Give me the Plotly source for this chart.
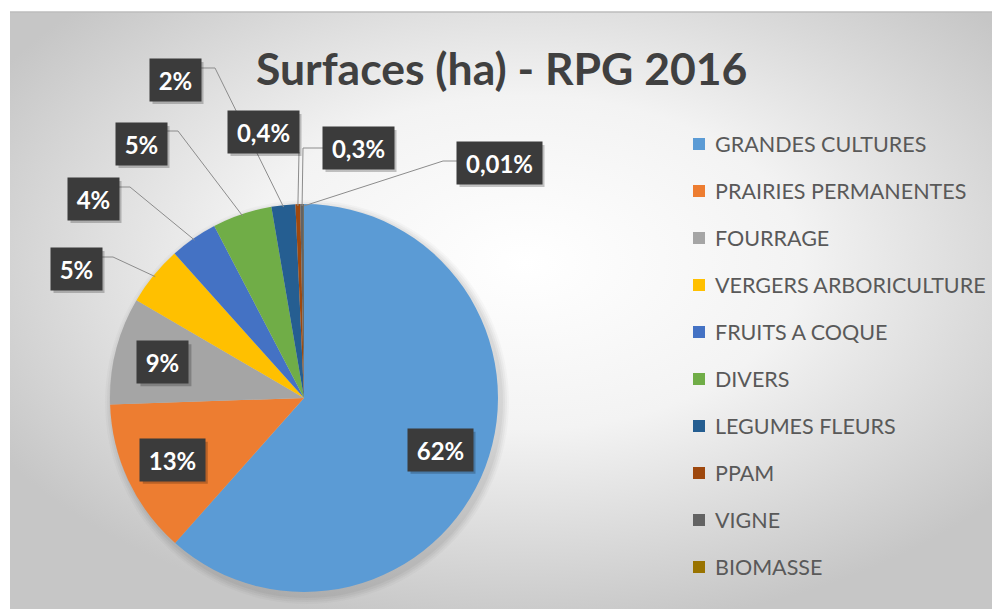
import math
import base64
import plotly.graph_objects as go

# ---------------- data ----------------
categories = ["GRANDES CULTURES", "PRAIRIES PERMANENTES", "FOURRAGE",
              "VERGERS ARBORICULTURE", "FRUITS A COQUE", "DIVERS",
              "LEGUMES FLEURS", "PPAM", "VIGNE", "BIOMASSE"]
values = [62, 13, 9, 5, 4, 5, 2, 0.4, 0.3, 0.01]
value_labels = ["62%", "13%", "9%", "5%", "4%", "5%", "2%", "0,4%", "0,3%", "0,01%"]
colors = ["#5B9BD5", "#ED7D31", "#A5A5A5", "#FFC000", "#4472C4",
          "#70AD47", "#255E91", "#9E480E", "#636363", "#997300"]
title_text = "Surfaces (ha) - RPG 2016"

# ---------------- layout constants (screen pixels) ----------------
OFF = 8                      # page body margin
W, H = 1000 - OFF, 609 - OFF
CX, CY, R = 304, 398, 194    # pie centre / radius (screen px)
FONT = "Lato"

def px(x):
    return (x - OFF) / W

def py(y):
    return 1 - (y - OFF) / H

# outside label boxes: centre, leader start, elbow (None -> inside label)
label_pos = [None, None, None, (76, 269), (93, 199), (141, 144), (175, 80),
             (263, 132), (358, 148), (499, 163)]
leader_start = [None, None, None, (102, 257), (119, 187), (166, 131), (200, 68),
                (299, 152), (323, 148), (457, 161)]
leader_elbow = [None, None, None, (113, 257), (130, 187), (178, 131), (215, 68),
                None, (303, 148), (443, 161)]
inside_frac = 0.75

total = sum(values)
mid_angles = []
acc = 0
for v in values:
    mid_angles.append((acc + v / 2) / total * 2 * math.pi)
    acc += v

def pie_point(theta, frac):
    return (CX + frac * R * math.sin(theta), CY - frac * R * math.cos(theta))

# ---------------- figure ----------------
fig = go.Figure()
fig.add_trace(go.Pie(
    labels=categories, values=values, sort=False, direction="clockwise",
    rotation=0, textinfo="none", hoverinfo="label+percent", showlegend=False,
    marker=dict(colors=colors, line=dict(width=0)),
    domain=dict(x=[px(CX - R), px(CX + R)], y=[py(CY + R), py(CY - R)]),
))

# background radial gradient
BG_W, BG_H = 1000 - 10, 609 - 12
svg = (
    f"<svg xmlns='http://www.w3.org/2000/svg' width='{BG_W}' height='{BG_H}'>"
    "<defs><radialGradient id='g' cx='0.52' cy='0.42' r='0.62'>"
    "<stop offset='0' stop-color='#ffffff'/>"
    "<stop offset='0.45' stop-color='#f3f3f3'/>"
    "<stop offset='1' stop-color='#c6c6c6'/>"
    "</radialGradient></defs>"
    f"<rect width='{BG_W}' height='{BG_H}' fill='url(#g)'/></svg>"
)
src = "data:image/svg+xml;base64," + base64.b64encode(svg.encode()).decode()
images = [dict(source=src, xref="paper", yref="paper", x=px(10), y=py(12),
               sizex=BG_W / W, sizey=BG_H / H, sizing="stretch",
               xanchor="left", yanchor="top", layer="below")]

shapes = []
# frame top line
shapes.append(dict(type="line", xref="paper", yref="paper", x0=px(10), x1=1,
                   y0=py(12), y1=py(12), line=dict(color="#bdbdbd", width=1.5),
                   layer="below"))
# soft pie shadow
for k, a in [(8, 0.025), (6, 0.03), (4, 0.035), (2, 0.04)]:
    shapes.append(dict(type="circle", xref="paper", yref="paper",
                       x0=px(CX - R - k + 3), x1=px(CX + R + k + 3),
                       y0=py(CY + R + k + 4), y1=py(CY - R - k + 4),
                       fillcolor=f"rgba(0,0,0,{a})", line=dict(width=0),
                       layer="below"))

# leader lines
for i in range(len(values)):
    if leader_start[i] is None:
        continue
    ex, ey = pie_point(mid_angles[i], 0.99)
    pts = [leader_start[i]]
    if leader_elbow[i] is not None:
        pts.append(leader_elbow[i])
    pts.append((ex, ey))
    path = "M " + " L ".join(f"{px(x):.5f},{py(y):.5f}" for x, y in pts)
    shapes.append(dict(type="path", xref="paper", yref="paper", path=path,
                       line=dict(color="#8c8c8c", width=1), layer="above"))

annotations = []
# title
annotations.append(dict(text=f"<b>{title_text}</b>", x=px(501.5), y=py(67),
                        xref="paper", yref="paper", showarrow=False,
                        xanchor="center", yanchor="middle",
                        font=dict(family=FONT, size=44.5, color="#404040")))

# data labels
def box_width(t):
    digits = sum(c.isdigit() for c in t)
    commas = t.count(",")
    return 37 + 14 * digits + 6 * commas

BOX_H = 42
for i, t in enumerate(value_labels):
    if label_pos[i] is None:
        bx, by = pie_point(mid_angles[i], inside_frac)
    else:
        bx, by = label_pos[i]
    w = box_width(t)
    # drop shadow
    shapes.append(dict(type="rect", xref="paper", yref="paper",
                       x0=px(bx - w / 2 + 3), x1=px(bx + w / 2 + 3),
                       y0=py(by + BOX_H / 2 + 3), y1=py(by - BOX_H / 2 + 3),
                       fillcolor="rgba(0,0,0,0.22)", line=dict(width=0),
                       layer="above"))
    annotations.append(dict(text=f"<b>{t}</b>", x=px(bx), y=py(by),
                            xref="paper", yref="paper", showarrow=False,
                            xanchor="center", yanchor="middle",
                            width=w, height=BOX_H, borderpad=0,
                            bgcolor="#3b3b3b",
                            font=dict(family=FONT, size=24, color="#ffffff")))

# manual legend
LEG_Y0, LEG_STEP = 144, 47
for i, cat in enumerate(categories):
    y = LEG_Y0 + i * LEG_STEP
    shapes.append(dict(type="rect", xref="paper", yref="paper",
                       x0=px(693), x1=px(705), y0=py(y + 6), y1=py(y - 6),
                       fillcolor=colors[i], line=dict(width=0), layer="above"))
    annotations.append(dict(text=cat, x=px(713), y=py(y), xref="paper",
                            yref="paper", showarrow=False, xanchor="left",
                            yanchor="middle",
                            font=dict(family=FONT, size=21.5, color="#595959")))

fig.update_layout(
    width=W, height=H, margin=dict(l=0, r=0, t=0, b=0),
    paper_bgcolor="#ffffff", plot_bgcolor="#ffffff",
    images=images, shapes=shapes, annotations=annotations, showlegend=False,
)

fig.write_html("out.html")
